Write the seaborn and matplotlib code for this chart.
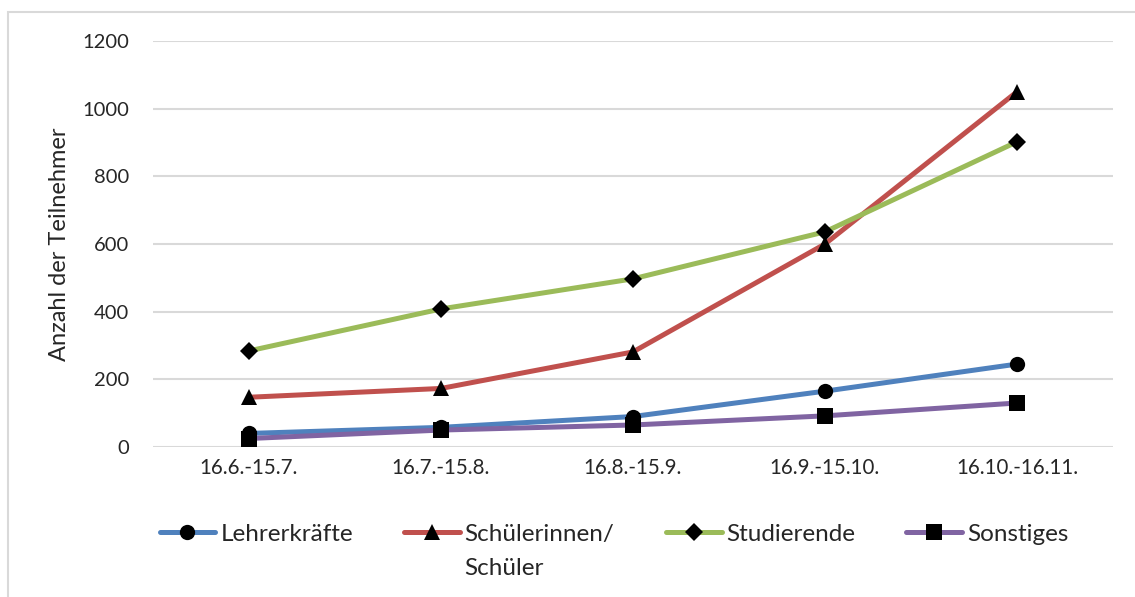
import matplotlib
matplotlib.use("Agg")
import matplotlib.pyplot as plt
import seaborn as sns
from matplotlib.patches import Rectangle

# ---------------------------------------------------------
# DATA
# ---------------------------------------------------------
periods = ['16.6.-15.7.', '16.7.-15.8.', '16.8.-15.9.', '16.9.-15.10.', '16.10.-16.11.']
lehrer = [40, 58, 90, 165, 245]
schueler = [147, 173, 281, 600, 1050]
studierende = [284, 408, 497, 636, 902]
sonstiges = [25, 50, 65, 92, 130]

series_names = ['Lehrerkräfte', 'Schülerinnen/', 'Studierende', 'Sonstiges']
series_values = [lehrer, schueler, studierende, sonstiges]
colors = ['#4F81BD', '#C0504D', '#9BBB59', '#8064A2']
markers = ['o', '^', 'D', 's']
marker_sizes = [11, 12, 9, 12]

sns.set_style("white")
plt.rcParams['font.family'] = ['Lato', 'DejaVu Sans']

fig = plt.figure(figsize=(11.35, 5.97), dpi=100)
ax = fig.add_axes([0.1348, 0.2513, 0.8458, 0.68])

for name, vals, col, mk, ms in zip(series_names, series_values, colors, markers, marker_sizes):
    sns.lineplot(x=periods, y=vals, ax=ax, color=col, linewidth=3.6,
                 marker=mk, markersize=ms, markerfacecolor='black',
                 markeredgecolor='black', markeredgewidth=0, label=name)

ax.set_ylim(0, 1200)
ax.set_xlim(-0.5, 4.5)
ax.set_yticks(range(0, 1201, 200))
ax.yaxis.grid(True, color='#D9D9D9', linewidth=1.5)
ax.set_axisbelow(True)
for s in ax.spines.values():
    s.set_visible(False)
ax.tick_params(axis='y', length=0, pad=17, labelsize=14.5)
ax.tick_params(axis='x', length=0, pad=8, labelsize=14.8)
ax.set_xlabel('')
ax.set_ylabel('Anzahl der Teilnehmer', fontsize=17, labelpad=9)

ax.get_legend().remove()
handles, labels = ax.get_legend_handles_labels()
leg = fig.legend(handles, labels, loc='center', bbox_to_anchor=(0.541, 0.105),
                 ncol=4, frameon=False, fontsize=17.5, handlelength=2.3,
                 handletextpad=0.2, columnspacing=2.1)

# second line of the wrapped legend label
fig.canvas.draw()
bb = leg.get_texts()[1].get_window_extent().transformed(fig.transFigure.inverted())
fig.text(bb.x0, bb.y0 - 0.022, 'Schüler', fontsize=17.5, va='top', ha='left')

# chart area frame (partly cut off in the screenshot)
fig.patches.append(Rectangle((8 / 1135, -0.1), 1.2, 1 - 12 / 597 + 0.1,
                             transform=fig.transFigure, fill=False,
                             edgecolor='#D9D9D9', linewidth=1.5))

fig.savefig('out.png', dpi=100)
